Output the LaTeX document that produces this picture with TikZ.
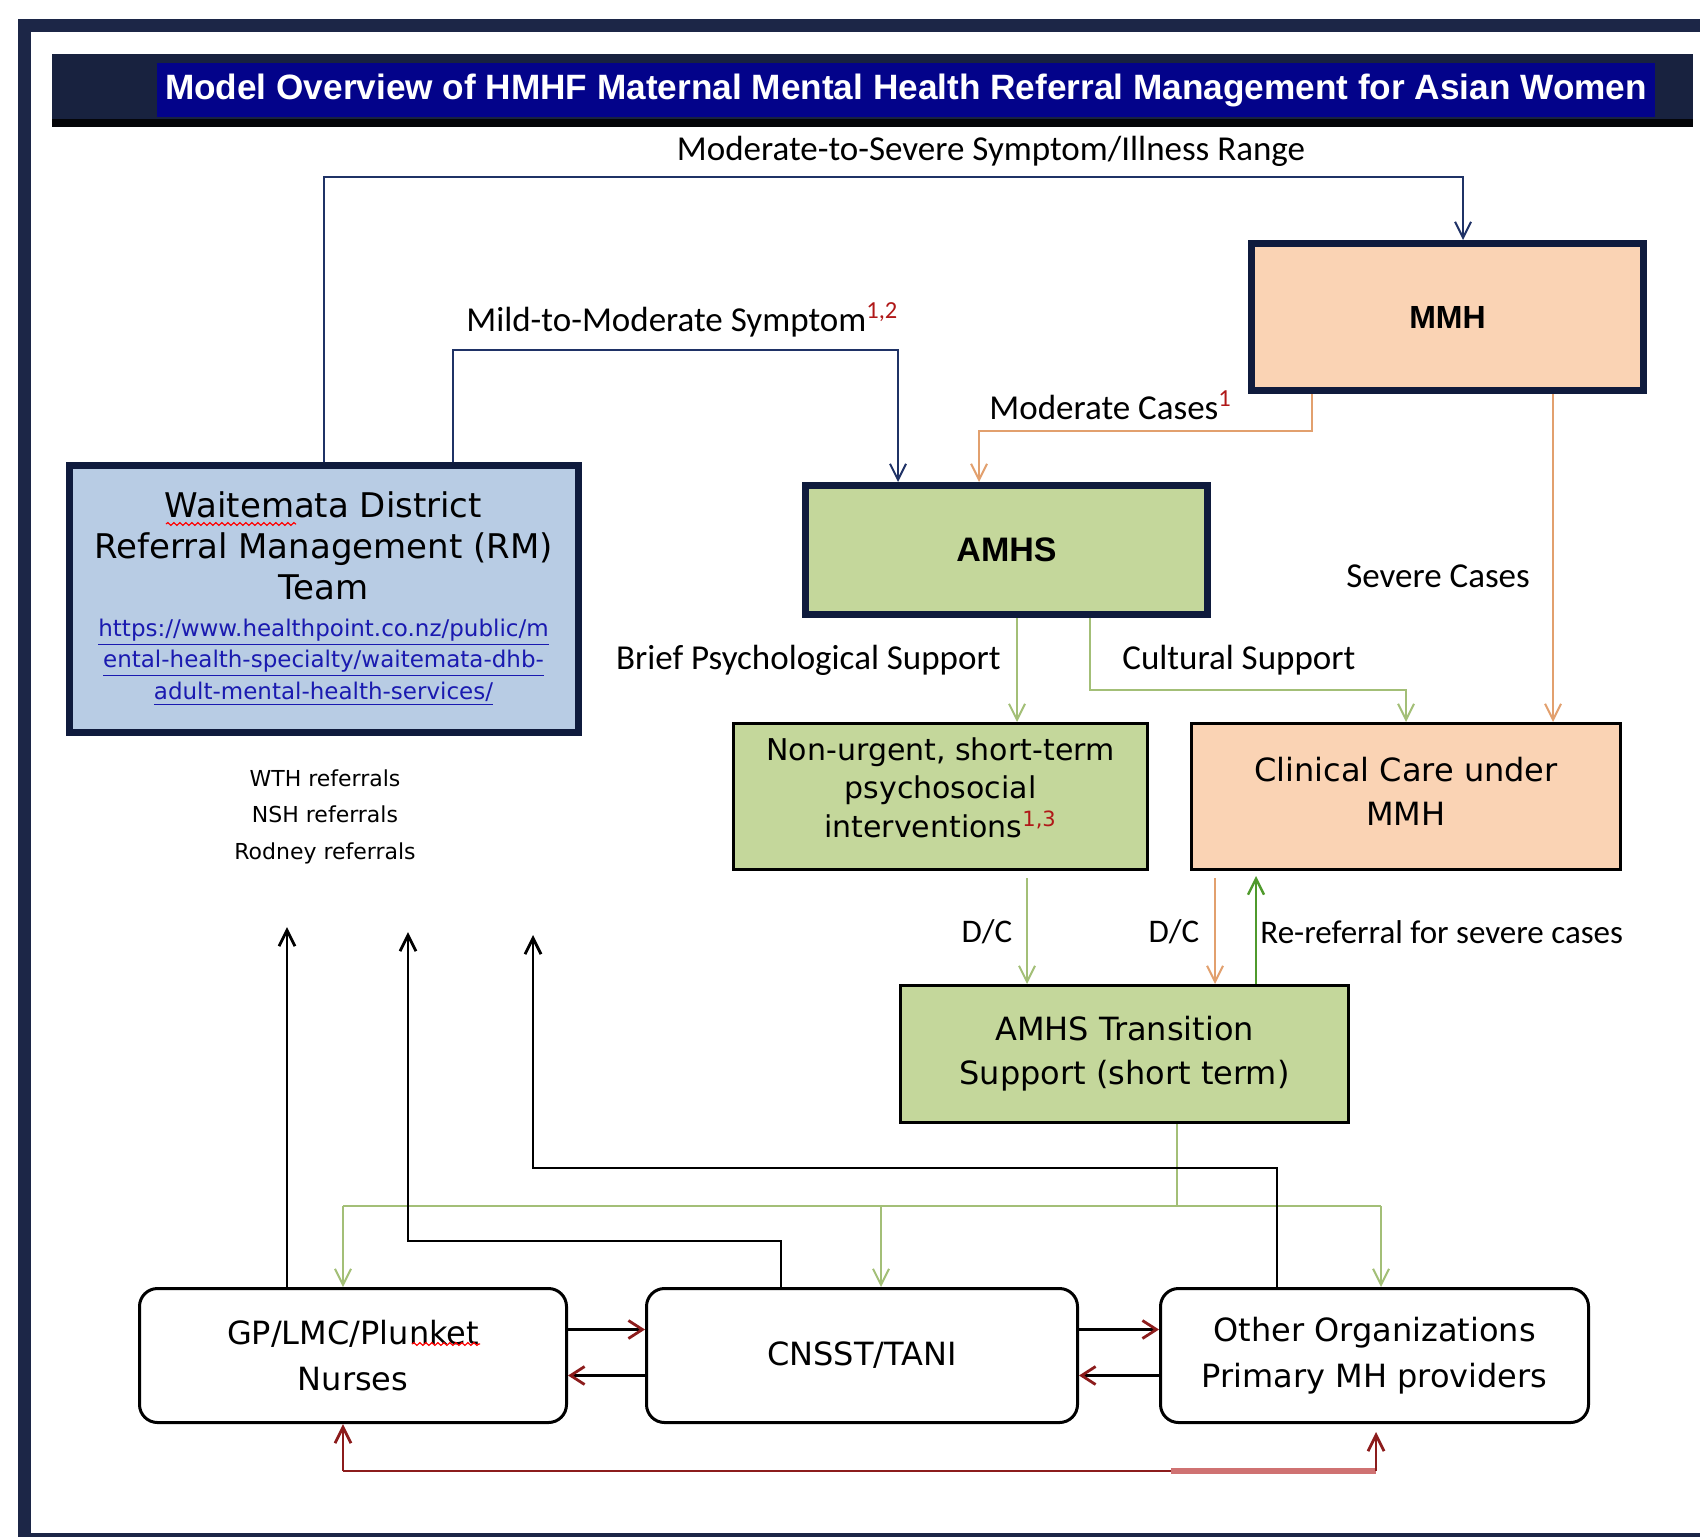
\documentclass[tikz,border=0pt]{standalone}
\usepackage{fontspec}
\setmainfont{DejaVu Sans}
\newfontfamily\headfont{Liberation Sans}
\newfontfamily\labelfont{Carlito}
\usetikzlibrary{arrows.meta,positioning,calc,decorations.pathmorphing}

\definecolor{framenavy}{HTML}{1C2647}
\definecolor{titlebar}{HTML}{18223F}
\definecolor{titlenavy}{HTML}{03038A}
\definecolor{boxnavy}{HTML}{0F1B3D}
\definecolor{linenavy}{HTML}{1F3266}
\definecolor{rmblue}{HTML}{B8CCE4}
\definecolor{amhsgreen}{HTML}{C4D79B}
\definecolor{mmhpeach}{HTML}{FAD3B4}
\definecolor{caseorange}{HTML}{E2A06E}
\definecolor{supportgreen}{HTML}{A3BF77}
\definecolor{rereferral}{HTML}{4F9A2C}
\definecolor{supred}{HTML}{B01818}
\definecolor{loopred}{HTML}{8C1C1C}
\definecolor{urlblue}{HTML}{1A1AB0}

\newcommand{\urlline}[1]{{\fontsize{11.5}{15.75}\selectfont\color{urlblue}\underline{#1}}}
\newcommand{\supnote}[1]{\textsuperscript{\color{supred}#1}}

\begin{document}
\begin{tikzpicture}[x=0.5pt,y=-0.5pt,
    arrowhd/.style={-{Straight Barb[length=8pt,width=8pt]}},
    heavybox/.style={draw=boxnavy, line width=3.5pt, align=center, inner sep=0pt},
    lightbox/.style={draw=black, line width=1.5pt, align=center, inner sep=0pt},
    partner/.style={draw=black, line width=1.5pt, rounded corners=9pt, align=center,
        inner sep=0pt, minimum height=67pt, font=\fontsize{16}{23}\selectfont},
    flowtext/.style={font=\labelfont\fontsize{17.5}{20}\selectfont, inner sep=0pt},
    smallnote/.style={inner sep=0pt, font=\fontsize{11}{13}\selectfont},
    navyline/.style={draw=linenavy, line width=1pt},
    caseline/.style={draw=caseorange, line width=1pt},
    supportline/.style={draw=supportgreen, line width=1pt},
    referline/.style={draw=black, line width=1.4pt},
    loopline/.style={draw=loopred, line width=1.4pt},
    squiggle/.style={draw=red, line width=0.6pt, decorate,
        decoration={snake, amplitude=0.7pt, segment length=3pt}}
]
\useasboundingbox (0,0) rectangle (1700,1536);
\fill[white] (0,0) rectangle (1700,1536);

% frame and title bar
\draw[framenavy, line width=6.5pt] (24.5,25.5) rectangle (1760,1539);
\fill[titlebar] (52,54) rectangle (1693,127);
\fill[black!85!titlebar] (52,119) rectangle (1693,127);
\node[fill=titlenavy, text=white, minimum width=749pt, minimum height=27pt, inner sep=0pt,
    font=\headfont\bfseries\fontsize{17.6}{19}\selectfont] (title) at (906,90)
    {Model Overview of HMHF Maternal Mental Health Referral Management for Asian Women};

% main services
\node[heavybox, fill=rmblue, minimum width=254.5pt, minimum height=133.5pt,
    font=\fontsize{17}{20.5}\selectfont] (rm) at (323.5,598.5)
    {Waitemata District\\Referral Management (RM)\\Team\\[-2pt]
     \urlline{https://www.healthpoint.co.nz/public/m}\\[-4.75pt]
     \urlline{ental-health-specialty/waitemata-dhb-}\\[-4.75pt]
     \urlline{adult-mental-health-services/}};
\node[heavybox, fill=mmhpeach, minimum width=196pt, minimum height=73.5pt,
    font=\headfont\bfseries\fontsize{16}{20}\selectfont] (mmh) at (1447.5,317) {MMH};
\node[heavybox, fill=amhsgreen, minimum width=201pt, minimum height=64.5pt,
    font=\headfont\bfseries\fontsize{17}{20}\selectfont] (amhs) at (1006.5,550) {AMHS};
\node[lightbox, fill=amhsgreen, minimum width=207pt, minimum height=73pt,
    font=\fontsize{15}{19.25}\selectfont] (nonurg) at (940.5,796.5)
    {Non-urgent, short-term\\psychosocial\\interventions\supnote{1,3}\rule[-9pt]{0pt}{0pt}};
\node[lightbox, fill=mmhpeach, minimum width=214.5pt, minimum height=73pt,
    font=\fontsize{16}{22}\selectfont] (clin) at (1406,796.5)
    {Clinical Care under\\MMH\rule[-5.4pt]{0pt}{0pt}};
\node[lightbox, fill=amhsgreen, minimum width=224pt, minimum height=68.5pt,
    font=\fontsize{16}{22}\selectfont] (trans) at (1124.5,1054)
    {AMHS Transition\\Support (short term)};

% community partners
\node[partner, minimum width=213.5pt] (gp) at (353,1355.5) {GP/LMC/Plunket\\Nurses};
\node[partner, minimum width=215.5pt] (cnsst) at (862,1355.5) {CNSST/TANI};
\node[partner, minimum width=214pt] (other) at (1374.5,1355.5)
    {Other Organizations\\Primary MH providers};

% spell check marks
\draw[squiggle] (166,524) -- (296,524);
\draw[squiggle] (412,1344) -- (480,1344);

% labels
\node[flowtext] (sevrange) at (991,151) {Moderate-to-Severe Symptom/Illness Range};
\node[flowtext, anchor=west] (mildlab) at (466,320) {Mild-to-Moderate Symptom\supnote{1,2}};
\node[flowtext, anchor=west] (modlab) at (989,405) {Moderate Cases\supnote{1}};
\node[flowtext] (sevlab) at (1438,576) {Severe Cases};
\node[flowtext, anchor=east] (brieflab) at (1001,660) {Brief Psychological Support};
\node[flowtext, font=\labelfont\fontsize{16.5}{19}\selectfont] (dcleft) at (987,932) {D/C};
\node[flowtext, font=\labelfont\fontsize{16.5}{19}\selectfont] (dcright) at (1174,932) {D/C};
\node[flowtext, anchor=west] (cultlab) at (1122,660) {Cultural Support};
\node[flowtext, anchor=west, font=\labelfont\fontsize{16.5}{19}\selectfont] (relab) at (1260,932)
    {Re-referral for severe cases};
\node[smallnote] (wth) at (325,778) {WTH referrals};
\node[smallnote] (nsh) at (325,814) {NSH referrals};
\node[smallnote] (rod) at (325,853) {Rodney referrals};

% bend points
\coordinate (sevtop) at (1463,177);
\coordinate (mildtop) at (898,350);
\coordinate (mildx) at (453,0);
\coordinate (modx) at (1312,0);
\coordinate (modbend) at (979,431);
\coordinate (sevx) at (1553,0);
\coordinate (briefx) at (1017,0);
\coordinate (cultbend) at (1090,690);
\coordinate (dclx) at (1027,0);
\coordinate (dcrx) at (1215,0);
\coordinate (rerx) at (1256,0);
\coordinate (distrib) at (1177,1206);
\coordinate (distL) at (343,1206);
\coordinate (distM) at (881,1206);
\coordinate (distR) at (1381,1206);
\coordinate (wthup) at (287,927);
\coordinate (nshup) at (408,932);
\coordinate (nshbend) at (781,1241);
\coordinate (rodup) at (533,935);
\coordinate (rodbend) at (1277,1168);
\coordinate (loopL) at (343,1471);
\coordinate (loopR) at (1376,1471);

% referral routes from RM team
\draw[navyline, arrowhd] (rm.north) |- (sevtop) -- (sevtop |- mmh.north);
\draw[navyline, arrowhd] (mildx |- rm.north) |- (mildtop) -- (mildtop |- amhs.north);

% MMH routes
\draw[caseline, arrowhd] (modx |- mmh.south) |- (modbend) -- (modbend |- amhs.north);
\draw[caseline, arrowhd] (sevx |- mmh.south) -- (sevx |- clin.north);

% AMHS support
\draw[supportline, arrowhd] (briefx |- amhs.south) -- (briefx |- nonurg.north);
\draw[supportline, arrowhd] (cultbend |- amhs.south) -- (cultbend) -| (clin.north);

% discharge and re-referral
\draw[supportline, arrowhd] ([yshift=-3.5pt]dclx |- nonurg.south) -- (dclx |- trans.north);
\draw[caseline, arrowhd] ([yshift=-3.5pt]dcrx |- clin.south) -- (dcrx |- trans.north);
\draw[draw=rereferral, line width=1.2pt, arrowhd] (rerx |- trans.north) -- ([yshift=-2.5pt]rerx |- clin.south);

% transition back to community
\draw[supportline] (distrib |- trans.south) -- (distrib);
\draw[supportline] (distL) -- (distR);
\draw[supportline, arrowhd] (distL) -- (distL |- gp.north);
\draw[supportline, arrowhd] (distM) -- (distM |- cnsst.north);
\draw[supportline, arrowhd] (distR) -- (distR |- other.north);

% referrals up to RM team
\draw[referline, arrowhd] (wthup |- gp.north) -- (wthup);
\draw[referline, arrowhd] (nshbend |- cnsst.north) -- (nshbend) -| (nshup);
\draw[referline, arrowhd] (rodbend |- other.north) -- (rodbend) -| (rodup);

% partner exchange
\draw[referline, -{Straight Barb[length=7pt,width=9pt,color=loopred]}]
    ([yshift=13pt]gp.east) -- ([yshift=13pt]cnsst.west);
\draw[referline, -{Straight Barb[length=7pt,width=9pt,color=loopred]}]
    ([yshift=-10pt]cnsst.west) -- ([yshift=-10pt]gp.east);
\draw[referline, -{Straight Barb[length=7pt,width=9pt,color=loopred]}]
    ([yshift=13pt]cnsst.east) -- ([yshift=13pt]other.west);
\draw[referline, -{Straight Barb[length=7pt,width=9pt,color=loopred]}]
    ([yshift=-10pt]other.west) -- ([yshift=-10pt]cnsst.east);
\draw[loopline] (loopL) -- (loopR);
\draw[draw=loopred!70!red!60, line width=3pt] (1171,1471) -- (loopR);
\draw[loopline, arrowhd] (loopL) -- (loopL |- gp.south);
\draw[loopline, arrowhd] (loopR) -- ([yshift=-4pt]loopR |- other.south);
\end{tikzpicture}
\end{document}
